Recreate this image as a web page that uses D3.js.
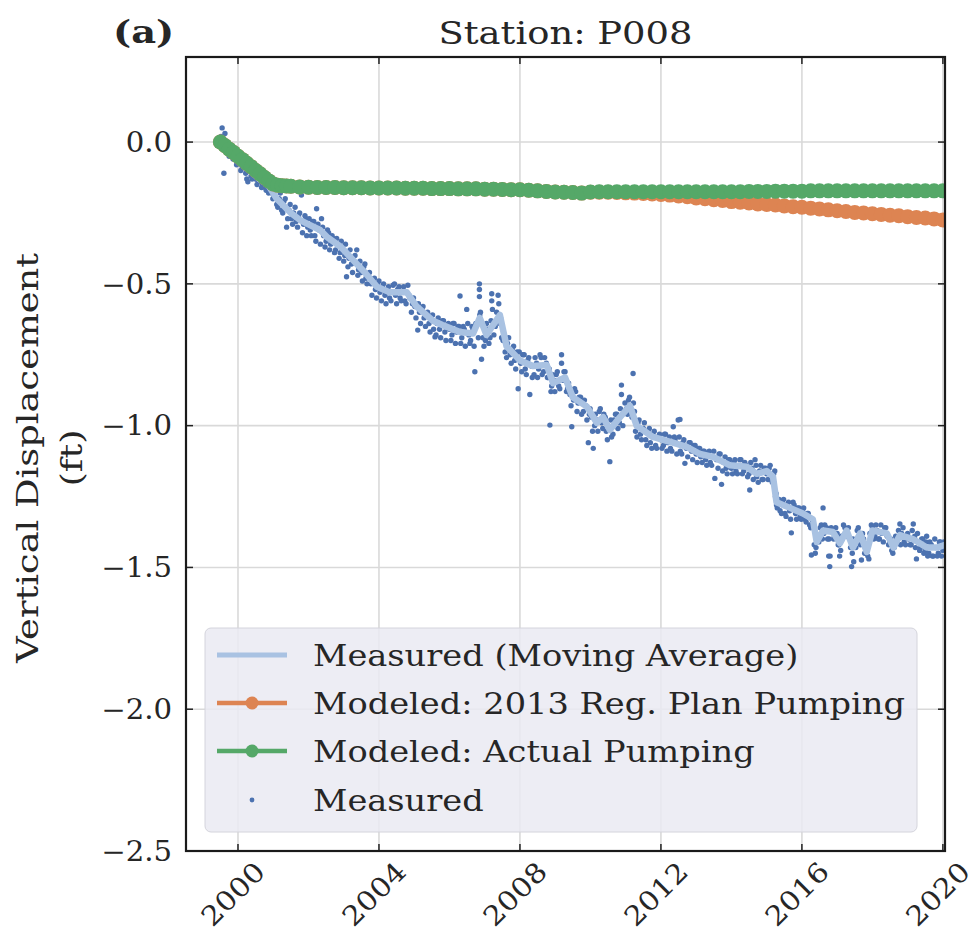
<!DOCTYPE html>
<html>
<head>
	<meta charset="utf-8">
	<title>Station P008</title>
	<style type="text/css">
	body{
		margin:0;
		background:#fff;
	}
	text{
		font-family:"DejaVu Serif", serif;
		fill:#262626;
	}
	.grid line{
		stroke:#d9d9d9;
		stroke-width:1.6;
	}
	</style>
	<script type="text/javascript" src="https://cdn.jsdelivr.net/npm/d3@7"></script>
</head>
<body>
<script type="text/javascript">
	var width = 976;
	var height = 939;

	// axis ticks
	var xTicks = [2000, 2004, 2008, 2012, 2016, 2020];
	var yTicks = [0.0, -0.5, -1.0, -1.5, -2.0, -2.5];

	// moving average of the measured record [year, ft]
	var movingAvg = [
		[1999.55,0.00],[1999.85,-0.04],[2000.2,-0.085],[2000.6,-0.13],[2000.85,-0.15],[2001.1,-0.20],
		[2001.5,-0.25],[2001.76,-0.275],[2002.0,-0.29],[2002.33,-0.31],[2002.52,-0.334],[2002.92,-0.37],
		[2003.37,-0.43],[2003.6,-0.46],[2003.94,-0.51],[2004.31,-0.53],[2004.79,-0.53],[2005.07,-0.58],
		[2005.53,-0.63],[2005.8,-0.645],[2006.1,-0.66],[2006.3,-0.67],[2006.67,-0.675],[2006.86,-0.62],
		[2007.05,-0.68],[2007.43,-0.61],[2007.62,-0.72],[2008.0,-0.77],[2008.37,-0.79],[2008.76,-0.786],
		[2008.94,-0.85],[2009.28,-0.83],[2009.5,-0.90],[2009.9,-0.933],[2010.18,-0.99],[2010.36,-0.97],
		[2010.55,-1.015],[2010.84,-0.97],[2011.12,-0.93],[2011.31,-1.00],[2011.77,-1.04],[2012.34,-1.06],
		[2012.73,-1.075],[2013.11,-1.10],[2013.48,-1.11],[2013.96,-1.14],[2014.43,-1.145],[2014.72,-1.17],
		[2015.0,-1.16],[2015.18,-1.18],[2015.28,-1.27],[2015.66,-1.29],[2016.03,-1.31],[2016.31,-1.33],
		[2016.42,-1.41],[2016.6,-1.37],[2016.88,-1.375],[2017.08,-1.415],[2017.27,-1.37],[2017.45,-1.43],
		[2017.65,-1.38],[2017.84,-1.445],[2018.0,-1.37],[2018.41,-1.38],[2018.6,-1.43],[2018.78,-1.386],
		[2019.15,-1.40],[2019.54,-1.43],[2019.83,-1.43],[2020.07,-1.42]
	];

	// measured GPS points [year, ft]
	var measured = [
		[1999.52,0.02],[1999.55,0.05],[1999.58,-0.01],[1999.6,-0.11],[1999.63,0.03],[1999.67,-0.02],[1999.72,-0.03],[1999.77,-0.04],[1999.82,-0.05],[1999.88,-0.04],[1999.93,-0.06],[1999.98,-0.07],
		[2000.05,-0.07],[2000.12,-0.09],[2000.18,-0.08],[2000.25,-0.13],[2000.3,-0.10],[2000.37,-0.12],[2000.43,-0.11],[2000.5,-0.13],[2000.57,-0.14],[2000.63,-0.12],[2000.7,-0.15],[2000.77,-0.16],[2000.83,-0.17],[2000.9,-0.16],[2000.96,-0.18],
		[2001.03,-0.19],[2001.1,-0.22],[2001.17,-0.20],[2001.24,-0.24],[2001.3,-0.21],[2001.38,-0.30],[2001.45,-0.24],[2001.52,-0.27],[2001.58,-0.25],[2001.65,-0.28],[2001.72,-0.26],[2001.8,-0.187],[2001.86,-0.29],[2001.93,-0.27],[2001.98,-0.30],
		[2002.05,-0.31],[2002.12,-0.28],[2002.18,-0.33],[2002.23,-0.235],[2002.3,-0.31],[2002.37,-0.27],[2002.43,-0.33],[2002.5,-0.35],[2002.57,-0.32],[2002.63,-0.36],[2002.7,-0.34],[2002.77,-0.38],[2002.83,-0.36],[2002.9,-0.39],[2002.96,-0.37],
		[2003.03,-0.40],[2003.08,-0.475],[2003.15,-0.41],[2003.22,-0.43],[2003.28,-0.42],[2003.37,-0.38],[2003.42,-0.45],[2003.5,-0.46],[2003.57,-0.44],[2003.63,-0.48],[2003.7,-0.47],[2003.77,-0.50],[2003.83,-0.49],[2003.9,-0.52],[2003.96,-0.50],
		[2004.03,-0.53],[2004.1,-0.51],[2004.17,-0.54],[2004.23,-0.52],[2004.3,-0.55],[2004.4,-0.505],[2004.47,-0.54],[2004.53,-0.52],[2004.6,-0.55],[2004.67,-0.53],[2004.73,-0.56],[2004.82,-0.505],[2004.88,-0.55],[2004.95,-0.57],
		[2005.02,-0.58],[2005.1,-0.663],[2005.15,-0.60],[2005.22,-0.59],[2005.28,-0.62],[2005.35,-0.61],[2005.42,-0.64],[2005.48,-0.62],[2005.55,-0.66],[2005.59,-0.687],[2005.65,-0.64],[2005.72,-0.66],[2005.8,-0.63],[2005.87,-0.67],[2005.93,-0.65],
		[2006.0,-0.66],[2006.07,-0.68],[2006.13,-0.64],[2006.2,-0.67],[2006.27,-0.65],[2006.3,-0.543],[2006.35,-0.69],[2006.42,-0.66],[2006.49,-0.59],[2006.55,-0.68],[2006.6,-0.70],[2006.67,-0.66],[2006.72,-0.81],[2006.78,-0.64],[2006.85,-0.50],[2006.85,-0.52],[2006.85,-0.545],[2006.86,-0.61],[2006.91,-0.766],[2006.95,-0.69],
		[2007.02,-0.70],[2007.08,-0.66],[2007.15,-0.69],[2007.2,-0.535],[2007.2,-0.56],[2007.22,-0.59],[2007.3,-0.65],[2007.38,-0.54],[2007.4,-0.57],[2007.45,-0.62],[2007.52,-0.70],[2007.58,-0.74],[2007.65,-0.71],[2007.72,-0.75],[2007.78,-0.73],[2007.85,-0.77],[2007.92,-0.74],[2007.95,-0.87],
		[2008.02,-0.78],[2008.08,-0.75],[2008.15,-0.80],[2008.22,-0.77],[2008.28,-0.89],[2008.32,-0.79],[2008.4,-0.82],[2008.47,-0.78],[2008.53,-0.80],[2008.6,-0.76],[2008.67,-0.81],[2008.75,-0.78],[2008.8,-0.83],[2008.85,-0.998],[2008.9,-0.86],[2008.96,-0.84],
		[2009.03,-0.82],[2009.1,-0.86],[2009.18,-0.75],[2009.18,-0.78],[2009.22,-0.84],[2009.28,-0.81],[2009.35,-0.87],[2009.42,-0.89],[2009.47,-1.004],[2009.52,-0.91],[2009.58,-0.88],[2009.65,-0.92],[2009.72,-0.90],[2009.8,-0.95],[2009.87,-0.93],[2009.94,-1.06],[2009.97,-0.96],
		[2010.03,-0.97],[2010.08,-1.08],[2010.12,-1.00],[2010.18,-0.98],[2010.25,-0.95],[2010.32,-0.99],[2010.38,-0.96],[2010.45,-1.02],[2010.5,-1.00],[2010.55,-1.127],[2010.6,-1.04],[2010.67,-0.98],[2010.75,-0.96],[2010.82,-0.99],[2010.88,-0.857],[2010.88,-0.89],[2010.95,-0.95],
		[2011.02,-0.94],[2011.08,-0.91],[2011.15,-0.95],[2011.21,-0.816],[2011.22,-0.92],[2011.28,-1.02],[2011.35,-0.99],[2011.42,-1.03],[2011.5,-1.01],[2011.57,-1.05],[2011.63,-1.02],[2011.7,-1.06],[2011.77,-1.03],[2011.85,-1.07],[2011.92,-1.04],
		[2012.0,-1.05],[2012.07,-1.07],[2012.13,-1.03],[2012.2,-1.06],[2012.27,-1.08],[2012.35,-1.004],[2012.4,-1.05],[2012.49,-0.98],[2012.54,-0.978],[2012.55,-1.09],[2012.62,-1.06],[2012.68,-1.133],[2012.72,-1.08],[2012.8,-1.06],[2012.87,-1.09],[2012.93,-1.07],
		[2013.0,-1.10],[2013.07,-1.08],[2013.13,-1.11],[2013.2,-1.09],[2013.27,-1.12],[2013.33,-1.10],[2013.4,-1.13],[2013.47,-1.11],[2013.53,-1.186],[2013.58,-1.12],[2013.65,-1.10],[2013.72,-1.207],[2013.78,-1.13],[2013.85,-1.15],[2013.92,-1.12],
		[2014.0,-1.15],[2014.07,-1.13],[2014.13,-1.16],[2014.2,-1.14],[2014.27,-1.12],[2014.35,-1.16],[2014.42,-1.14],[2014.5,-1.17],[2014.52,-1.227],[2014.58,-1.15],[2014.67,-1.12],[2014.72,-1.18],[2014.8,-1.16],[2014.87,-1.19],[2014.93,-1.15],
		[2015.0,-1.17],[2015.07,-1.15],[2015.13,-1.19],[2015.2,-1.17],[2015.25,-1.25],[2015.28,-1.28],[2015.32,-1.26],[2015.38,-1.30],[2015.45,-1.27],[2015.52,-1.31],[2015.58,-1.28],[2015.65,-1.30],[2015.7,-1.378],[2015.75,-1.27],[2015.82,-1.31],[2015.88,-1.29],[2015.95,-1.32],
		[2016.02,-1.30],[2016.08,-1.33],[2016.15,-1.31],[2016.22,-1.35],[2016.27,-1.456],[2016.3,-1.34],[2016.35,-1.42],[2016.4,-1.43],[2016.45,-1.39],[2016.52,-1.36],[2016.6,-1.29],[2016.62,-1.38],[2016.7,-1.36],[2016.77,-1.40],[2016.79,-1.497],[2016.8,-1.46],[2016.85,-1.37],[2016.92,-1.39],
		[2017.0,-1.38],[2017.05,-1.42],[2017.1,-1.44],[2017.15,-1.40],[2017.22,-1.36],[2017.28,-1.38],[2017.35,-1.40],[2017.41,-1.497],[2017.43,-1.45],[2017.5,-1.41],[2017.57,-1.37],[2017.63,-1.39],[2017.69,-1.474],[2017.75,-1.40],[2017.82,-1.44],[2017.87,-1.46],[2017.93,-1.38],
		[2018.0,-1.36],[2018.07,-1.39],[2018.13,-1.37],[2018.2,-1.40],[2018.27,-1.38],[2018.35,-1.36],[2018.42,-1.39],[2018.5,-1.41],[2018.55,-1.44],[2018.62,-1.43],[2018.7,-1.40],[2018.78,-1.347],[2018.83,-1.38],[2018.9,-1.41],[2018.97,-1.39],
		[2019.03,-1.40],[2019.1,-1.42],[2019.16,-1.347],[2019.2,-1.39],[2019.25,-1.47],[2019.3,-1.41],[2019.37,-1.43],[2019.43,-1.40],[2019.5,-1.44],[2019.54,-1.39],[2019.6,-1.45],[2019.67,-1.42],[2019.73,-1.46],[2019.8,-1.43],[2019.87,-1.45],[2019.93,-1.41],[2020.0,-1.44],
		[1999.57,0.01],[1999.62,-0.02],[1999.7,-0.01],[1999.75,-0.05],[1999.8,-0.03],[1999.86,-0.06],[1999.9,-0.05],[1999.96,-0.08],[2000.02,-0.06],[2000.08,-0.10],[2000.15,-0.09],[2000.22,-0.11],[2000.28,-0.14],[2000.34,-0.10],[2000.4,-0.13],[2000.47,-0.12],[2000.54,-0.15],[2000.6,-0.13],[2000.67,-0.16],[2000.74,-0.14],[2000.8,-0.17],[2000.87,-0.18],[2000.93,-0.17],[2000.99,-0.20],
		[2001.06,-0.16],[2001.13,-0.23],[2001.2,-0.18],[2001.27,-0.25],[2001.34,-0.20],[2001.41,-0.27],[2001.48,-0.22],[2001.55,-0.29],[2001.62,-0.23],[2001.69,-0.30],[2001.75,-0.25],[2001.83,-0.32],[2001.9,-0.26],[2001.95,-0.33],
		[2002.02,-0.27],[2002.08,-0.33],[2002.15,-0.28],[2002.21,-0.35],[2002.27,-0.29],[2002.34,-0.36],[2002.4,-0.30],[2002.47,-0.37],[2002.54,-0.31],[2002.6,-0.38],[2002.67,-0.33],[2002.74,-0.39],[2002.8,-0.34],[2002.87,-0.41],[2002.93,-0.35],
		[2003.0,-0.42],[2003.05,-0.36],[2003.12,-0.44],[2003.18,-0.38],[2003.25,-0.46],[2003.32,-0.40],[2003.4,-0.47],[2003.46,-0.42],[2003.53,-0.49],[2003.6,-0.43],[2003.66,-0.50],[2003.73,-0.46],[2003.8,-0.54],[2003.87,-0.48],[2003.93,-0.55],
		[2004.0,-0.49],[2004.07,-0.56],[2004.13,-0.50],[2004.2,-0.57],[2004.27,-0.51],[2004.34,-0.56],[2004.44,-0.50],[2004.5,-0.57],[2004.57,-0.51],[2004.63,-0.56],[2004.7,-0.51],[2004.77,-0.57],[2004.85,-0.54],[2004.92,-0.60],[2004.98,-0.55],
		[2005.05,-0.62],[2005.12,-0.57],[2005.18,-0.64],[2005.25,-0.58],[2005.32,-0.65],[2005.38,-0.60],[2005.45,-0.67],[2005.52,-0.61],[2005.62,-0.68],[2005.68,-0.62],[2005.75,-0.69],[2005.83,-0.63],[2005.9,-0.70],[2005.97,-0.64],
		[2006.04,-0.70],[2006.1,-0.64],[2006.17,-0.71],[2006.24,-0.65],[2006.32,-0.71],[2006.39,-0.65],[2006.45,-0.72],[2006.52,-0.64],[2006.58,-0.71],[2006.64,-0.65],[2006.7,-0.72],[2006.75,-0.64],[2006.82,-0.69],[2006.88,-0.60],[2006.98,-0.72],
		[2007.05,-0.64],[2007.12,-0.71],[2007.18,-0.63],[2007.26,-0.68],[2007.34,-0.60],[2007.43,-0.64],[2007.48,-0.69],[2007.55,-0.68],[2007.62,-0.76],[2007.68,-0.69],[2007.75,-0.78],[2007.82,-0.72],[2007.88,-0.80],[2007.98,-0.74],
		[2008.05,-0.81],[2008.12,-0.75],[2008.18,-0.82],[2008.25,-0.76],[2008.35,-0.83],[2008.43,-0.76],[2008.5,-0.83],[2008.57,-0.75],[2008.63,-0.82],[2008.7,-0.76],[2008.78,-0.83],[2008.83,-0.80],[2008.88,-0.88],[2008.93,-0.82],[2008.99,-0.88],
		[2009.06,-0.81],[2009.13,-0.87],[2009.25,-0.81],[2009.32,-0.88],[2009.38,-0.85],[2009.45,-0.93],[2009.55,-0.87],[2009.62,-0.95],[2009.68,-0.90],[2009.75,-0.96],[2009.83,-0.91],[2009.9,-0.98],[2009.99,-0.94],
		[2010.06,-1.02],[2010.14,-0.96],[2010.21,-1.02],[2010.28,-0.94],[2010.35,-1.01],[2010.42,-0.97],[2010.48,-1.05],[2010.58,-0.98],[2010.64,-1.03],[2010.71,-0.96],[2010.78,-1.01],[2010.85,-0.94],[2010.92,-1.00],[2010.98,-0.92],
		[2011.05,-0.96],[2011.11,-0.90],[2011.18,-0.97],[2011.25,-0.95],[2011.32,-1.04],[2011.38,-0.98],[2011.45,-1.05],[2011.53,-0.99],[2011.6,-1.07],[2011.67,-1.01],[2011.74,-1.08],[2011.81,-1.02],[2011.88,-1.08],[2011.96,-1.03],
		[2012.03,-1.08],[2012.1,-1.03],[2012.17,-1.09],[2012.24,-1.04],[2012.31,-1.09],[2012.38,-1.04],[2012.45,-1.10],[2012.52,-1.04],[2012.59,-1.10],[2012.65,-1.05],[2012.76,-1.11],[2012.83,-1.06],[2012.9,-1.12],[2012.97,-1.07],
		[2013.03,-1.13],[2013.1,-1.08],[2013.17,-1.13],[2013.23,-1.09],[2013.3,-1.14],[2013.37,-1.09],[2013.44,-1.14],[2013.5,-1.09],[2013.62,-1.15],[2013.68,-1.10],[2013.75,-1.16],[2013.82,-1.11],[2013.88,-1.17],[2013.95,-1.12],
		[2014.03,-1.17],[2014.1,-1.12],[2014.17,-1.17],[2014.24,-1.12],[2014.31,-1.17],[2014.38,-1.13],[2014.46,-1.18],[2014.55,-1.13],[2014.62,-1.19],[2014.7,-1.14],[2014.76,-1.20],[2014.83,-1.14],[2014.9,-1.19],[2014.97,-1.15],
		[2015.04,-1.19],[2015.1,-1.14],[2015.16,-1.20],[2015.23,-1.16],[2015.27,-1.24],[2015.3,-1.29],[2015.35,-1.26],[2015.42,-1.31],[2015.48,-1.26],[2015.55,-1.32],[2015.62,-1.27],[2015.68,-1.33],[2015.78,-1.28],[2015.85,-1.33],[2015.92,-1.29],[2015.98,-1.33],
		[2016.05,-1.29],[2016.12,-1.34],[2016.18,-1.31],[2016.25,-1.36],[2016.33,-1.35],[2016.38,-1.45],[2016.42,-1.39],[2016.48,-1.41],[2016.55,-1.35],[2016.58,-1.40],[2016.65,-1.35],[2016.73,-1.40],[2016.76,-1.46],[2016.83,-1.36],[2016.9,-1.40],[2016.96,-1.36],
		[2017.03,-1.42],[2017.07,-1.46],[2017.12,-1.39],[2017.18,-1.35],[2017.25,-1.39],[2017.32,-1.36],[2017.38,-1.43],[2017.45,-1.40],[2017.47,-1.48],[2017.53,-1.43],[2017.6,-1.36],[2017.66,-1.42],[2017.72,-1.38],[2017.78,-1.45],[2017.85,-1.42],[2017.9,-1.47],[2017.97,-1.35],
		[2018.04,-1.40],[2018.1,-1.35],[2018.17,-1.40],[2018.24,-1.35],[2018.31,-1.41],[2018.38,-1.36],[2018.46,-1.42],[2018.52,-1.40],[2018.58,-1.45],[2018.66,-1.39],[2018.74,-1.37],[2018.8,-1.42],[2018.87,-1.36],[2018.94,-1.42],
		[2019.0,-1.38],[2019.07,-1.42],[2019.13,-1.37],[2019.22,-1.43],[2019.28,-1.38],[2019.34,-1.44],[2019.4,-1.40],[2019.46,-1.45],[2019.52,-1.41],[2019.57,-1.46],[2019.63,-1.41],[2019.7,-1.46],[2019.77,-1.40],[2019.84,-1.46],[2019.9,-1.41],[2019.96,-1.46],[2020.03,-1.41]
	];

	// model output (semi-quarterly during the early decline, quarterly after)
	var modelYears = [
		1999.5,1999.625,1999.75,1999.875,2000.0,2000.125,2000.25,2000.375,2000.5,2000.625,
		2000.75,2000.875,2001.0,2001.125,2001.25,2001.375,2001.5,2001.75,
		2002.0,2002.25,2002.5,2002.75,2003.0,2003.25,2003.5,2003.75,2004.0,2004.25,
		2004.5,2004.75,2005.0,2005.25,2005.5,2005.75,2006.0,2006.25,2006.5,2006.75,
		2007.0,2007.25,2007.5,2007.75,2008.0,2008.25,2008.5,2008.75,2009.0,2009.25,
		2009.5,2009.75,2010.0,2010.25,2010.5,2010.75,2011.0,2011.25,2011.5,2011.75,
		2012.0,2012.25,2012.5,2012.75,2013.0,2013.25,2013.5,2013.75,2014.0,2014.25,
		2014.5,2014.75,2015.0,2015.25,2015.5,2015.75,2016.0,2016.25,2016.5,2016.75,
		2017.0,2017.25,2017.5,2017.75,2018.0,2018.25,2018.5,2018.75,2019.0,2019.25,
		2019.5,2019.75,2020.0
	];
	var actualPumping = [
		0.00,-0.012,-0.025,-0.037,-0.05,-0.062,-0.075,-0.087,-0.10,-0.112,
		-0.125,-0.137,-0.148,-0.152,-0.154,-0.155,-0.156,-0.158,
		-0.159,-0.160,-0.160,-0.160,-0.161,-0.161,-0.161,-0.162,-0.162,-0.162,
		-0.162,-0.163,-0.163,-0.163,-0.164,-0.164,-0.164,-0.165,-0.165,-0.165,
		-0.166,-0.166,-0.167,-0.168,-0.168,-0.170,-0.172,-0.174,-0.176,-0.177,
		-0.178,-0.180,-0.176,-0.175,-0.175,-0.175,-0.175,-0.175,-0.175,-0.175,
		-0.175,-0.175,-0.175,-0.175,-0.175,-0.175,-0.175,-0.175,-0.175,-0.175,
		-0.174,-0.174,-0.174,-0.173,-0.173,-0.173,-0.173,-0.172,-0.172,-0.172,
		-0.172,-0.172,-0.172,-0.172,-0.172,-0.172,-0.172,-0.172,-0.172,-0.172,
		-0.172,-0.172,-0.172
	];
	var regPlanPumping = [
		0.00,-0.012,-0.025,-0.037,-0.05,-0.062,-0.075,-0.087,-0.10,-0.112,
		-0.125,-0.137,-0.148,-0.152,-0.154,-0.155,-0.156,-0.158,
		-0.159,-0.160,-0.160,-0.160,-0.161,-0.161,-0.161,-0.162,-0.162,-0.162,
		-0.162,-0.163,-0.163,-0.163,-0.164,-0.164,-0.164,-0.165,-0.165,-0.165,
		-0.166,-0.166,-0.167,-0.168,-0.168,-0.170,-0.172,-0.174,-0.176,-0.177,
		-0.178,-0.180,-0.177,-0.177,-0.177,-0.178,-0.179,-0.180,-0.181,-0.183,
		-0.185,-0.187,-0.190,-0.193,-0.197,-0.200,-0.203,-0.206,-0.210,-0.212,
		-0.215,-0.218,-0.220,-0.222,-0.225,-0.228,-0.230,-0.233,-0.236,-0.239,
		-0.242,-0.245,-0.248,-0.250,-0.253,-0.255,-0.258,-0.260,-0.263,-0.266,
		-0.268,-0.271,-0.275
	];

	var legendLabels = ["Measured (Moving Average)", "Modeled: 2013 Reg. Plan Pumping", "Modeled: Actual Pumping", "Measured"];

	var colMA = "#a9c2e2", colReg = "#dd8452", colAct = "#55a868", colPts = "#4c72b0";

	var margin = {left:186, right:31, top:57, bottom:88};
	var svg = d3.select("body").append("svg")
				.attr("width", width)
				.attr("height", height);

	var x = d3.scaleLinear().domain([1998.525, 2020.06]).range([margin.left, width - margin.right]);
	var y = d3.scaleLinear().domain([-2.5, 0.3]).range([height - margin.bottom, margin.top]);

	var x0 = x.range()[0], x1 = x.range()[1], y0 = y.range()[0], y1 = y.range()[1];

	// the figure font is a wide serif, so DejaVu Serif gets stretched along the text direction
	function label(parent, tx, ty, rot, sx, size){
		return parent.append("text")
			.attr("transform", "translate(" + tx + "," + ty + ")" + (rot ? " rotate(" + rot + ")" : "") + " scale(" + sx + ",1)")
			.style("font-size", size + "px");
	}

	// grid
	var grid = svg.append("g").attr("class", "grid");
	grid.selectAll(".gx").data(xTicks).enter().append("line")
		.attr("x1", function(d){return x(d);}).attr("x2", function(d){return x(d);})
		.attr("y1", y1).attr("y2", y0);
	grid.selectAll(".gy").data(yTicks).enter().append("line")
		.attr("x1", x0).attr("x2", x1)
		.attr("y1", function(d){return y(d);}).attr("y2", function(d){return y(d);});

	var plot = svg.append("g");
	svg.append("clipPath").attr("id", "clip").append("rect")
		.attr("x", x0).attr("y", y1).attr("width", x1 - x0).attr("height", y0 - y1);
	plot.attr("clip-path", "url(#clip)");

	// measured points
	plot.append("g").selectAll("circle").data(measured).enter().append("circle")
		.attr("cx", function(d){return x(d[0]);})
		.attr("cy", function(d){return y(d[1]);})
		.attr("r", 2.7)
		.style("fill", colPts);

	// moving average
	var line = d3.line().x(function(d){return x(d[0]);}).y(function(d){return y(d[1]);});
	plot.append("path").datum(movingAvg)
		.attr("d", line)
		.style("fill", "none").style("stroke", colMA).style("stroke-width", 6.5)
		.style("stroke-linejoin", "round");

	// modeled series
	function drawModel(vals, color){
		var pts = modelYears.map(function(t, i){ return [t, vals[i]]; });
		plot.append("path").datum(pts)
			.attr("d", line)
			.style("fill", "none").style("stroke", color).style("stroke-width", 5);
		plot.append("g").selectAll("circle").data(pts).enter().append("circle")
			.attr("cx", function(d){return x(d[0]);})
			.attr("cy", function(d){return y(d[1]);})
			.attr("r", 7.5)
			.style("fill", color);
	}
	drawModel(regPlanPumping, colReg);
	drawModel(actualPumping, colAct);

	// ticks, inward on all four sides
	var tk = svg.append("g").style("stroke", "#222").style("stroke-width", 1.5);
	xTicks.forEach(function(d){
		tk.append("line").attr("x1", x(d)).attr("x2", x(d)).attr("y1", y0).attr("y2", y0 - 7);
		tk.append("line").attr("x1", x(d)).attr("x2", x(d)).attr("y1", y1).attr("y2", y1 + 7);
	});
	yTicks.forEach(function(d){
		tk.append("line").attr("x1", x0).attr("x2", x0 + 7).attr("y1", y(d)).attr("y2", y(d));
		tk.append("line").attr("x1", x1).attr("x2", x1 - 7).attr("y1", y(d)).attr("y2", y(d));
	});

	// frame
	svg.append("rect")
		.attr("x", x0).attr("y", y1).attr("width", x1 - x0).attr("height", y0 - y1)
		.style("fill", "none").style("stroke", "#1a1a1a").style("stroke-width", 2.2);

	// tick labels
	var fmt = d3.format(".1f");
	yTicks.forEach(function(d){
		label(svg, x0 - 14, y(d), 0, 1.08, 27)
			.attr("dy", "0.36em")
			.attr("text-anchor", "end")
			.text(fmt(d).replace("-", "\u2212"));
	});
	xTicks.forEach(function(d){
		label(svg, x(d) - 5, y0 + 43, -45, 1.12, 27)
			.attr("text-anchor", "middle")
			.attr("dy", "0.35em")
			.text(d);
	});

	// titles
	label(svg, (x0 + x1)/2, 44, 0, 1.19, 31)
		.attr("text-anchor", "middle")
		.text("Station: P008");
	label(svg, 113, 43, 0, 1.2, 32)
		.style("font-weight", "bold")
		.text("(a)");

	var midY = (y0 + y1)/2 + 4;
	label(svg, 38, midY, -90, 1.27, 29)
		.attr("text-anchor", "middle")
		.text("Vertical Displacement");
	label(svg, 82, midY, -90, 1.27, 29)
		.attr("text-anchor", "middle")
		.text("(ft)");

	// legend
	var lg = svg.append("g");
	lg.append("rect")
		.attr("x", 205).attr("y", 628).attr("width", 712).attr("height", 204)
		.attr("rx", 6)
		.style("fill", "#eaeaf2").style("fill-opacity", 0.85)
		.style("stroke", "#d4d4dc").style("stroke-width", 1);
	var rowY = [655, 703, 751, 800];
	legendLabels.forEach(function(lab, i){
		var ry = rowY[i];
		if(i < 3){
			var c = [colMA, colReg, colAct][i];
			lg.append("line").attr("x1", 217).attr("x2", 287).attr("y1", ry).attr("y2", ry)
				.style("stroke", c).style("stroke-width", i == 0 ? 5 : 4.5);
			if(i > 0){
				lg.append("circle").attr("cx", 252).attr("cy", ry).attr("r", 6.5).style("fill", c);
			}
		} else {
			lg.append("circle").attr("cx", 252).attr("cy", ry).attr("r", 2.4).style("fill", colPts);
		}
		label(lg, 313, ry, 0, 1.14, 29.5)
			.attr("dy", "0.36em")
			.text(lab);
	});
</script>
</body>
</html>
